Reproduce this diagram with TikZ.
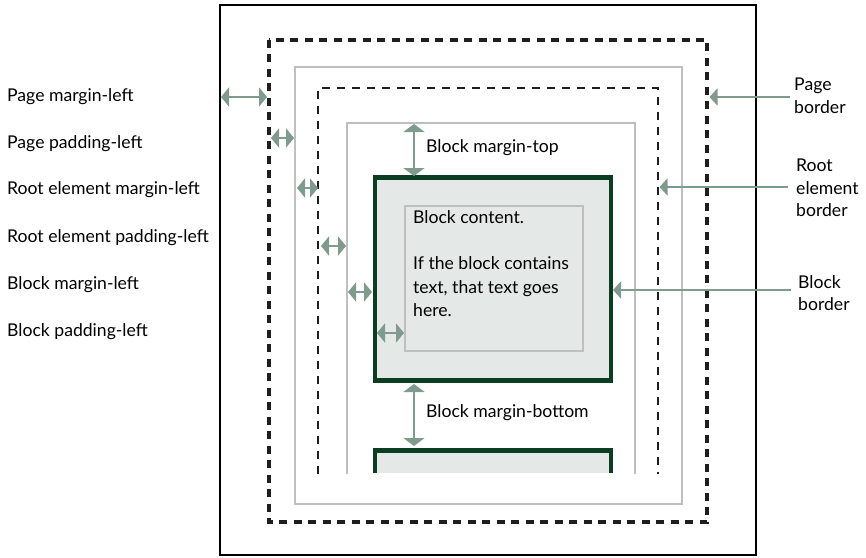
\documentclass[tikz,border=0pt]{standalone}
\usepackage{fontspec}
\setmainfont{Lato}
\usetikzlibrary{arrows.meta}
\definecolor{arr}{HTML}{7F9B8D}
\definecolor{blk}{HTML}{0B3D20}
\definecolor{blkfill}{HTML}{E4E9E7}
\definecolor{lgrey}{HTML}{BFBFBF}
\definecolor{dk}{HTML}{1E1E1E}
\begin{document}
\begin{tikzpicture}[x=1pt,y=-1pt,
  dbl/.style={draw=arr, line width=2.5pt, {Triangle[length=8pt,width=19pt]}-{Triangle[length=8pt,width=19pt]}},
  vdbl/.style={draw=arr, line width=2.5pt, {Triangle[length=8pt,width=21pt]}-{Triangle[length=8pt,width=21pt]}},
  ptr/.style={draw=arr, line width=2.2pt, -{Triangle[length=8pt,width=17pt]}},
  lbl/.style={font=\fontsize{17.6}{22.5}\selectfont, anchor=west, inner sep=0pt, align=left, text=black},
  greyline/.style={draw=lgrey, line width=2pt},
  thickdash/.style={draw=dk, line width=4pt, dash pattern=on 8pt off 6.5pt},
  thindash/.style={draw=dk, line width=2pt, dash pattern=on 8pt off 7pt},
  blockbox/.style={draw=blk, line width=4.5pt, fill=blkfill}
]
\useasboundingbox (0,0) rectangle (866,557);
\fill[white] (0,0) rectangle (866,557);
% page outline
\draw[black, line width=2pt] (220,5) rectangle (755.5,555);
% page border (thick dashed)
\draw[thickdash] (268.5,39.5) rectangle (707,522);
% root element margin box
\draw[greyline] (295,67) rectangle (682,504);
% root element border (thin dashed, open at the bottom)
\draw[thindash] (318,474) -- (318,88) -- (658,88) -- (658,474);
% root element content box
\draw[greyline] (347,474) -- (347,123) -- (635,123) -- (635,474);
% block
\draw[blockbox] (375,177.5) rectangle (611,380.5);
\draw[greyline] (405,206) rectangle (583,351);
% second block (cut off)
\fill[blkfill] (375,450.5) rectangle (611,473);
\draw[draw=blk, line width=4.5pt] (375,473) -- (375,450.5) -- (611,450.5) -- (611,473);

% content text
\node[lbl, anchor=north west, font=\fontsize{17.6}{23.3}\selectfont] (content) at (413,210) {Block content.\\\mbox{}\\If the block contains\\text, that text goes\\here.};

% left labels
\node[lbl] (l1) at (7,97) {Page margin-left};
\node[lbl] (l2) at (7,144) {Page padding-left};
\node[lbl] (l3) at (7,190) {Root element margin-left};
\node[lbl] (l4) at (7,238) {Root element padding-left};
\node[lbl] (l5) at (7,285) {Block margin-left};
\node[lbl] (l6) at (7,332) {Block padding-left};

% horizontal double arrows
\coordinate (a1s) at (221,97);  \coordinate (a1e) at (267,97);
\coordinate (a2s) at (271,138); \coordinate (a2e) at (294,138);
\coordinate (a3s) at (297,188); \coordinate (a3e) at (318,188);
\coordinate (a4s) at (321,246); \coordinate (a4e) at (346,246);
\coordinate (a5s) at (348,292); \coordinate (a5e) at (372,292);
\coordinate (a6s) at (377,333); \coordinate (a6e) at (404,333);
\draw[dbl] (a1s) -- (a1e);
\draw[dbl] (a2s) -- (a2e);
\draw[dbl] (a3s) -- (a3e);
\draw[dbl] (a4s) -- (a4e);
\draw[dbl] (a5s) -- (a5e);
\draw[dbl] (a6s) -- (a6e);

% vertical double arrows
\coordinate (mt1) at (414,124); \coordinate (mt2) at (414,176);
\draw[vdbl] (mt1) -- (mt2);
\node[lbl] (mtl) at (426,148) {Block margin-top};
\coordinate (mb1) at (414,384); \coordinate (mb2) at (414,446);
\draw[vdbl] (mb1) -- (mb2);
\node[lbl] (mbl) at (426,413) {Block margin-bottom};

% right labels and pointers
\node[lbl] (pb) at (794,96) {Page\\border};
\node[lbl] (rb) at (796,188) {Root\\element\\border};
\node[lbl] (bb) at (798,293) {Block\\border};
\coordinate (pbs) at (790,97);  \coordinate (pbe) at (709.5,97);
\coordinate (rbs) at (788,187); \coordinate (rbe) at (659.5,187);
\coordinate (bbs) at (791,290); \coordinate (bbe) at (613,290);
\draw[ptr] (pbs) -- (pbe);
\draw[ptr] (rbs) -- (rbe);
\draw[ptr] (bbs) -- (bbe);
\end{tikzpicture}
\end{document}
